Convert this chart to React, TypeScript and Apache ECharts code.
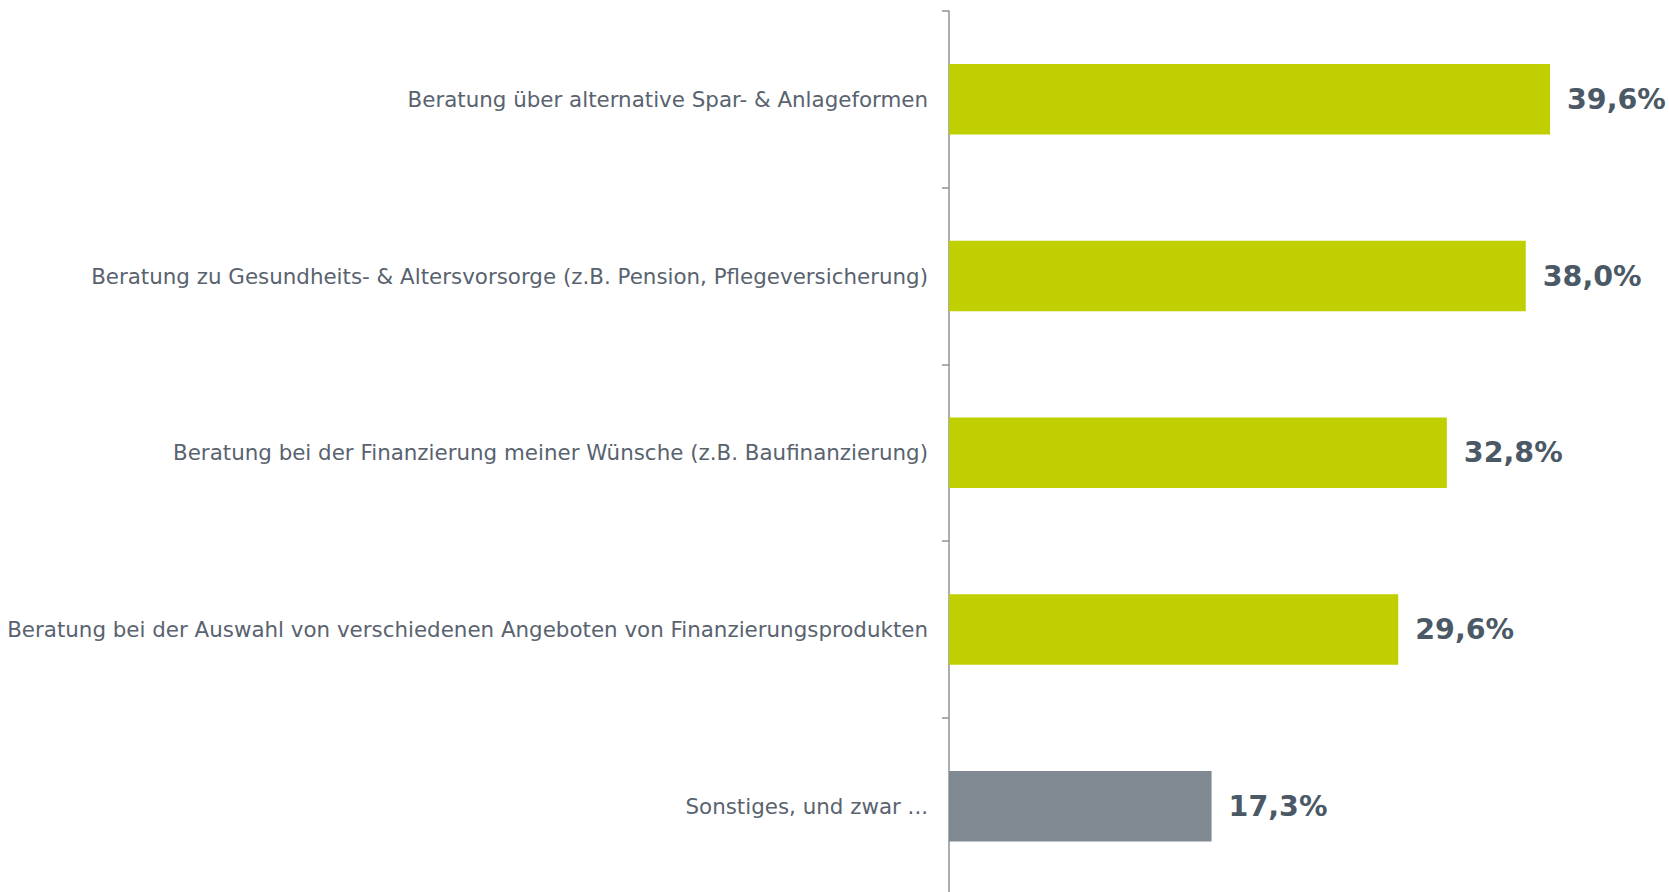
import React, { useEffect, useRef } from "react";
import * as echarts from "echarts";

const categories = [
  "Beratung über alternative Spar- & Anlageformen",
  "Beratung zu Gesundheits- & Altersvorsorge (z.B. Pension, Pflegeversicherung)",
  "Beratung bei der Finanzierung meiner Wünsche (z.B. Baufinanzierung)",
  "Beratung bei der Auswahl von verschiedenen Angeboten von Finanzierungsprodukten",
  "Sonstiges, und zwar ...",
];
const values = [39.6, 38.0, 32.8, 29.6, 17.3];
const barColors = ["#bfcf00", "#bfcf00", "#bfcf00", "#bfcf00", "#808891"];

export default function App() {
  const ref = useRef<HTMLDivElement>(null);
  useEffect(() => {
    if (!ref.current) return;
    const chart = echarts.init(ref.current, null, { renderer: "svg" });
    chart.setOption({
      animation: false,
      grid: {
        left: 949,
        top: 11,
        width: 683,
        height: 883.5,
        containLabel: false,
        outerBoundsMode: "none",
      },
      xAxis: { type: "value", min: 0, max: 45, show: false },
      yAxis: {
        type: "category",
        inverse: true,
        data: categories,
        axisLine: { show: true, lineStyle: { color: "#8c9399", width: 1.5 } },
        axisTick: { show: true, length: 7, lineStyle: { color: "#8c9399", width: 1.5 } },
        axisLabel: {
          color: "#59636f",
          fontFamily: "DejaVu Sans",
          fontSize: 21.4,
          margin: 21,
        },
        splitLine: { show: false },
      },
      series: [
        {
          type: "bar",
          barWidth: 70.5,
          data: values.map((v, i) => ({ value: v, itemStyle: { color: barColors[i] } })),
          label: {
            show: true,
            position: "right",
            distance: 17,
            color: "#4b5966",
            fontFamily: "DejaVu Sans",
            fontWeight: "bold",
            fontSize: 28.5,
            formatter: (p: any) => p.value.toFixed(1).replace(".", ",") + "%",
          },
        },
      ],
    });
    return () => chart.dispose();
  }, []);
  return (
    <div
      ref={ref}
      style={{ position: "fixed", left: 0, top: 0, width: 1669, height: 892, background: "#fff" }}
    />
  );
}
